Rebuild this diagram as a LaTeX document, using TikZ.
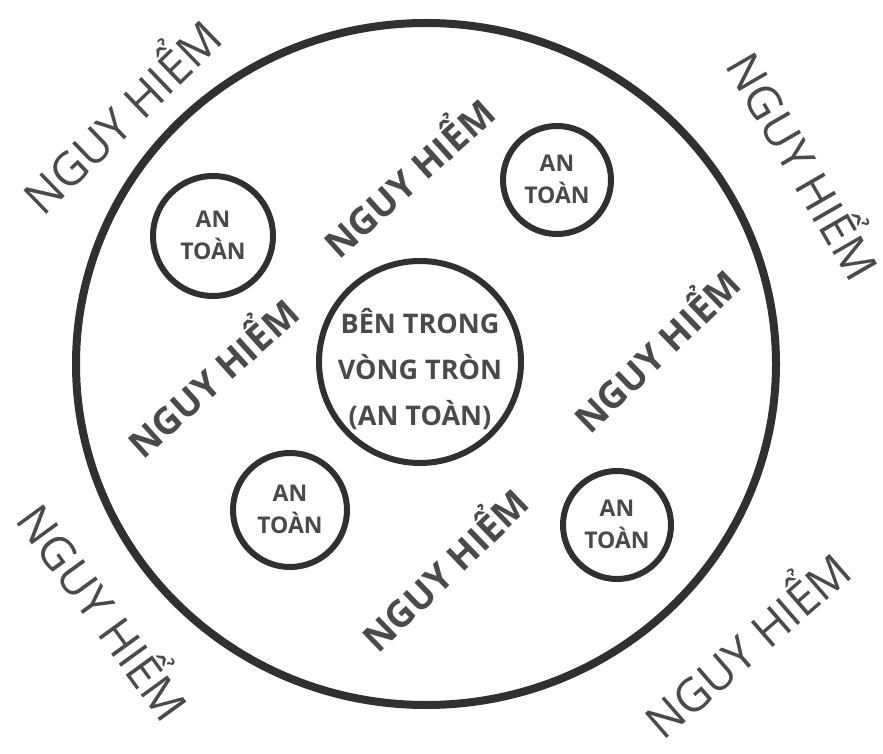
\documentclass[tikz,border=0pt]{standalone}
\usepackage{fontspec}
\setmainfont{Open Sans}
\newfontfamily\boldsans{Open Sans Bold}
\definecolor{ink}{HTML}{303030}
\definecolor{txt}{HTML}{4A4A4A}
\begin{document}
\begin{tikzpicture}[x=1pt,y=1pt,
  ring/.style={draw=ink, line width=6pt, circle},
  outer/.style={text=txt, font=\fontsize{46}{50}\selectfont, inner sep=0pt},
  inner/.style={text=txt, font=\boldsans\fontsize{37}{40}\selectfont, inner sep=0pt},
  safe/.style={text=txt, font=\boldsans\fontsize{23}{32}\selectfont, align=center, inner sep=0pt},
  core/.style={text=txt, font=\boldsans\fontsize{27}{46}\selectfont, align=center, inner sep=0pt}]
\useasboundingbox (0,0) rectangle (883,753);
\fill[white] (0,0) rectangle (883,753);
% big circle
\draw[ink, line width=8pt] (426,389) ellipse [x radius=350, y radius=341];
% centre circle
\node[ring, minimum size=202pt] (c) at (420,391) {};
\node[core] (ct) at (420,384) {BÊN TRONG\\VÒNG TRÒN\\(AN TOÀN)};
% small circles
\node[ring, minimum size=120pt] (s1) at (213,517) {};
\node[safe] (t1) at (213,518) {AN\\TOÀN};
\node[ring, minimum size=108pt] (s2) at (557,573) {};
\node[safe] (t2) at (557,574) {AN\\TOÀN};
\node[ring, minimum size=114pt] (s3) at (290,243) {};
\node[safe] (t3) at (290,244) {AN\\TOÀN};
\node[ring, minimum size=108pt] (s4) at (617,228) {};
\node[safe] (t4) at (617,229) {AN\\TOÀN};
% inner danger labels
\node[inner, rotate=42] (d1) at (406,578) {NGUY HIỂM};
\node[inner, rotate=42] (d2) at (210,378) {NGUY HIỂM};
\node[inner, rotate=44] (d3) at (654,405) {NGUY HIỂM};
\node[inner, rotate=44] (d4) at (442,186) {NGUY HIỂM};
% outer danger labels
\node[outer, rotate=44] (o1) at (118,640) {NGUY HIỂM};
\node[outer, rotate=-60] (o2) at (808,590) {NGUY HIỂM};
\node[outer, rotate=-54] (o3) at (108,144) {NGUY HIỂM};
\node[outer, rotate=41] (o4) at (744,112) {NGUY HIỂM};
\end{tikzpicture}
\end{document}
